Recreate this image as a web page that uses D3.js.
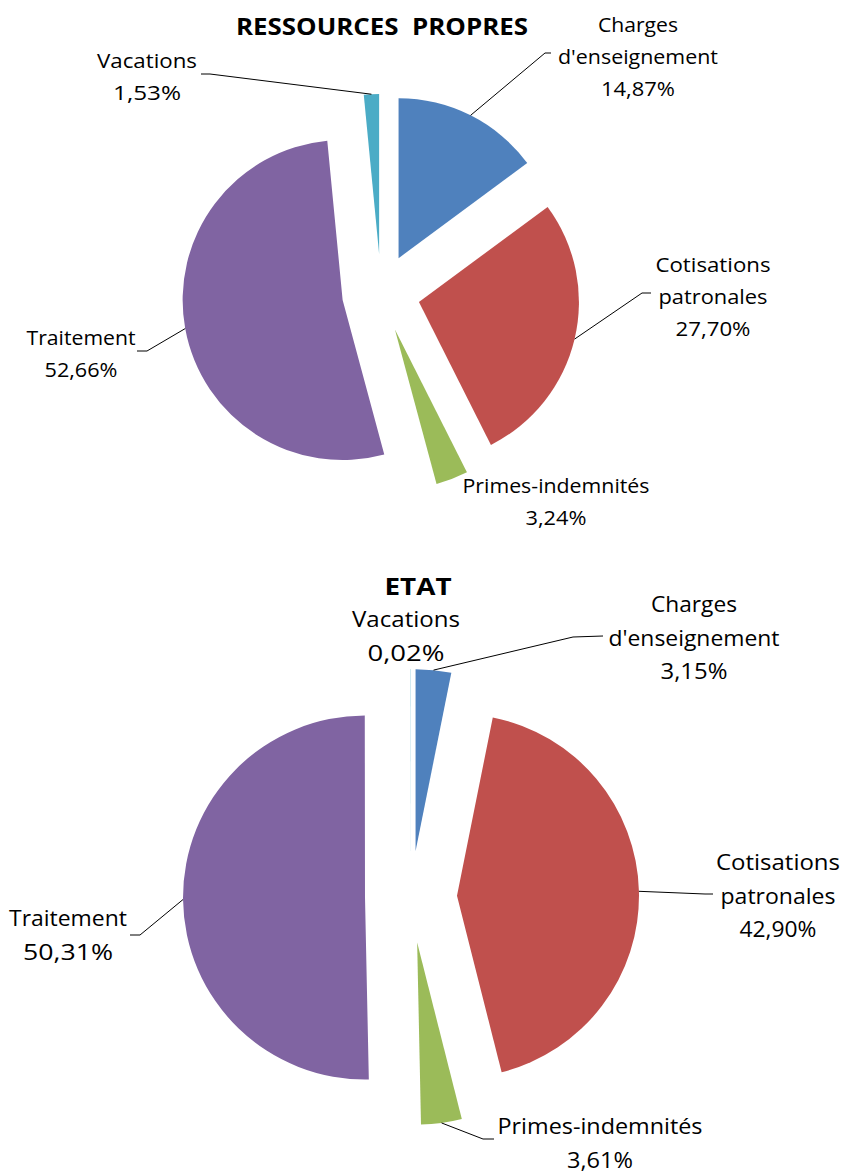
<!DOCTYPE html>
<html>
<head>
<meta charset="utf-8">
<script src="https://cdn.jsdelivr.net/npm/d3@7/dist/d3.min.js"></script>
<style>
  html, body { margin: 0; padding: 0; background: #fff; }
  svg { display: block; }
  text { font-family: "Open Sans", "Liberation Sans", sans-serif; fill: #000; }
</style>
</head>
<body>
<svg id="chart" width="843" height="1172"></svg>
<script>
// Budget breakdown per funding source (percent of total)
const categories = ["Charges d'enseignement", "Cotisations patronales", "Primes-indemnités", "Traitement", "Vacations"];
const labelLines = [["Charges", "d'enseignement"], ["Cotisations", "patronales"], ["Primes-indemnités"], ["Traitement"], ["Vacations"]];
const colors = ["#4F81BD", "#C0504D", "#9BBB59", "#8064A2", "#4BACC6"];
const ressourcesValues = [14.87, 27.70, 3.24, 52.66, 1.53];
const etatValues = [3.15, 42.90, 3.61, 50.31, 0.02];

const fmt = v => v.toFixed(2).replace(".", ",") + "%";

// Layout of each pie: centre, radius, explode offset, label placement
const charts = [
  {
    title: "RESSOURCES  PROPRES", titleX: 382, titleY: 35, titleW: 292,
    values: ressourcesValues, cx: 381, cy: 293, r: 160, explode: 39,
    fontSize: 20, lineH: 32,
    labels: [
      { x: 638, y: 32, widths: [80, 160, 74], elbow: [545, 53], end: [551, 53] },
      { x: 713, y: 272, widths: [115, 109, 75], elbow: [642, 293], end: [651, 293] },
      { x: 556, y: 493, widths: [187, 61], elbow: null },
      { x: 81, y: 345, widths: [109, 73], elbow: [147, 351], end: [137, 351] },
      { x: 147, y: 68, widths: [100, 68], elbow: [210, 74], end: [201, 74] }
    ]
  },
  {
    title: "ETAT", titleX: 418, titleY: 595, titleW: 67,
    values: etatValues, cx: 411, cy: 897, r: 182, explode: 46,
    fontSize: 21.5, lineH: 33.5,
    labels: [
      { x: 694, y: 612, widths: [86, 171, 67], elbow: [573, 637], end: [603, 636] },
      { x: 778, y: 870, widths: [124, 115, 77], elbow: [705, 894], end: [713, 894] },
      { x: 600, y: 1134, widths: [205, 66], elbow: [483, 1139], end: [494, 1139] },
      { x: 68, y: 926, widths: [118, 90], elbow: [140, 935], end: [130, 935] },
      { x: 406, y: 627, widths: [108, 77], elbow: null }
    ]
  }
];

const svg = d3.select("#chart");
const pie = d3.pie().sort(null).value(d => d).startAngle(0).endAngle(2 * Math.PI);

charts.forEach(c => {
  const g = svg.append("g");
  const arc = d3.arc().innerRadius(0).outerRadius(c.r);
  const arcs = pie(c.values);

  // exploded slices
  const slices = arcs.map(a => {
    const mid = (a.startAngle + a.endAngle) / 2;
    const dx = c.explode * Math.sin(mid), dy = -c.explode * Math.cos(mid);
    return { a, mid, ox: c.cx + dx, oy: c.cy + dy };
  });

  g.selectAll("path.slice").data(slices).join("path")
    .attr("class", "slice")
    .attr("transform", s => `translate(${s.ox},${s.oy})`)
    .attr("d", s => arc(s.a))
    .attr("fill", (s, i) => colors[i]);

  // leader lines from outer arc midpoint to label
  slices.forEach((s, i) => {
    const L = c.labels[i];
    if (!L.elbow) return;
    const px = s.ox + c.r * Math.sin(s.mid), py = s.oy - c.r * Math.cos(s.mid);
    g.append("polyline")
      .attr("points", [[px, py], L.elbow, L.end].map(p => p.join(",")).join(" "))
      .attr("fill", "none").attr("stroke", "#000").attr("stroke-width", 1);
  });

  // labels
  slices.forEach((s, i) => {
    const L = c.labels[i];
    const lines = labelLines[i].concat([fmt(c.values[i])]);
    lines.forEach((t, k) => {
      g.append("text")
        .attr("x", L.x).attr("y", L.y + k * c.lineH)
        .attr("text-anchor", "middle")
        .attr("font-size", c.fontSize)
        .attr("textLength", L.widths[k])
        .attr("lengthAdjust", "spacingAndGlyphs")
        .text(t);
    });
  });

  // title
  g.append("text")
    .attr("x", c.titleX).attr("y", c.titleY)
    .attr("text-anchor", "middle")
    .attr("font-size", 23).attr("font-weight", "bold")
    .attr("textLength", c.titleW).attr("lengthAdjust", "spacingAndGlyphs")
    .style("white-space", "pre")
    .text(c.title);
});
</script>
</body>
</html>
